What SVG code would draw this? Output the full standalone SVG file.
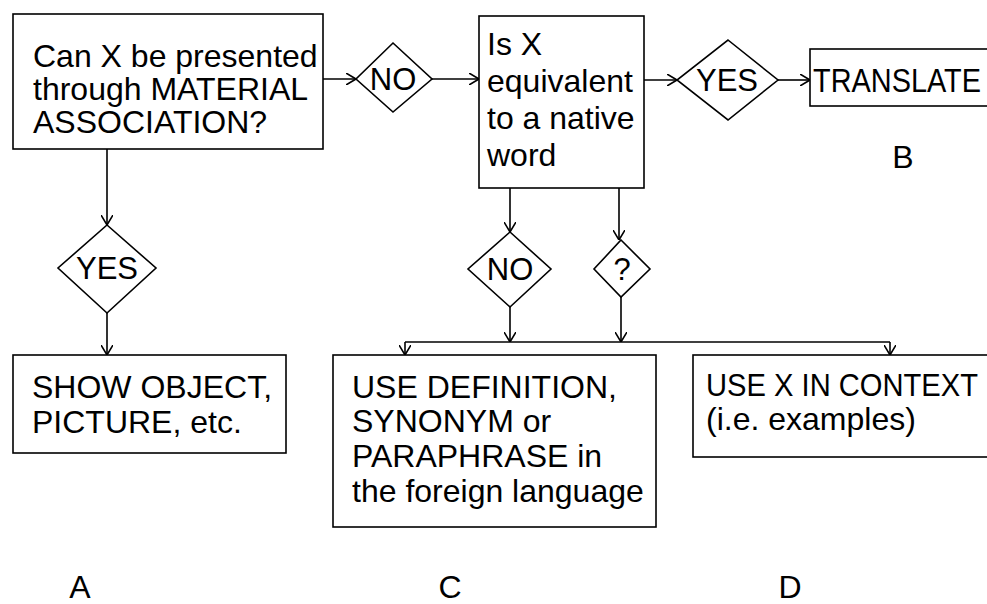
<svg xmlns="http://www.w3.org/2000/svg" width="987" height="604" viewBox="0 0 987 604">
<style>
.box{fill:#fff;stroke:#000;stroke-width:1.6}
.dia{fill:#fff;stroke:#000;stroke-width:1.6}
.t{font-family:"Liberation Sans",Arial,sans-serif;font-size:32px;fill:#000}
.d{font-size:31px}
.c{text-anchor:middle}
.ln{fill:none;stroke:#000;stroke-width:1.6}
</style>
<defs>
<marker id="arr" viewBox="0 0 10 12" refX="10" refY="6" markerWidth="10" markerHeight="12" markerUnits="userSpaceOnUse" orient="auto">
<path d="M0,0 L10,6 L0,12" fill="none" stroke="#000" stroke-width="1.6"/>
</marker>
</defs>
<rect width="987" height="604" fill="#fff"/>
<g id="connectors">
<path class="ln" d="M323,79 H356" marker-end="url(#arr)"/>
<path class="ln" d="M432,79 H479" marker-end="url(#arr)"/>
<path class="ln" d="M644,80 H677" marker-end="url(#arr)"/>
<path class="ln" d="M778,80 H810" marker-end="url(#arr)"/>
<path class="ln" d="M107,149 V225" marker-end="url(#arr)"/>
<path class="ln" d="M107,313 V355" marker-end="url(#arr)"/>
<path class="ln" d="M510,188 V232" marker-end="url(#arr)"/>
<path class="ln" d="M619,188 V240" marker-end="url(#arr)"/>
<path class="ln" d="M510,307 V342" marker-end="url(#arr)"/>
<path class="ln" d="M621,297 V342" marker-end="url(#arr)"/>
<path class="ln" d="M405,342 H890"/>
<path class="ln" d="M405,342 V355" marker-end="url(#arr)"/>
<path class="ln" d="M890,342 V355" marker-end="url(#arr)"/>
</g>
<g id="q1">
<rect class="box" x="13" y="14" width="310" height="135"/>
<text class="t" x="33" y="67">Can X be presented</text>
<text class="t" x="33" y="100">through MATERIAL</text>
<text class="t" x="33" y="133">ASSOCIATION?</text>
</g>
<g id="d-no1">
<polygon class="dia" points="393,43 432,79 393,112 356,79"/>
<text class="t d c" x="393" y="90">NO</text>
</g>
<g id="q2">
<rect class="box" x="479" y="16" width="165" height="172"/>
<text class="t" x="487" y="55">Is X</text>
<text class="t" x="487" y="92">equivalent</text>
<text class="t" x="487" y="129">to a native</text>
<text class="t" x="487" y="166">word</text>
</g>
<g id="d-yes1">
<polygon class="dia" points="728,40 778,80 728,120 677,80"/>
<text class="t d c" x="727" y="91">YES</text>
</g>
<g id="translate">
<rect class="box" x="810" y="49" width="190" height="57"/>
<text class="t" x="813" y="92" style="font-size:33px" textLength="168" lengthAdjust="spacingAndGlyphs">TRANSLATE</text>
</g>
<text class="t c" x="903" y="168">B</text>
<g id="d-yes2">
<polygon class="dia" points="107,225 156,268 107,313 58,268"/>
<text class="t d c" x="107" y="279">YES</text>
</g>
<g id="show">
<rect class="box" x="13" y="355" width="273" height="98"/>
<text class="t" x="32" y="398">SHOW OBJECT,</text>
<text class="t" x="32" y="433">PICTURE, etc.</text>
</g>
<g id="d-no2">
<polygon class="dia" points="510,232 551,269 510,307 468,269"/>
<text class="t d c" x="510" y="280">NO</text>
</g>
<g id="d-q">
<polygon class="dia" points="621,240 650,269 621,297 594,269"/>
<text class="t d c" x="622" y="280">?</text>
</g>
<g id="definition">
<rect class="box" x="333" y="355" width="323" height="172"/>
<text class="t" x="352" y="398">USE DEFINITION,</text>
<text class="t" x="352" y="432">SYNONYM or</text>
<text class="t" x="352" y="467">PARAPHRASE in</text>
<text class="t" x="352" y="502">the foreign language</text>
</g>
<g id="context">
<rect class="box" x="693" y="355" width="310" height="102"/>
<text class="t" x="706" y="396" textLength="272" lengthAdjust="spacingAndGlyphs">USE X IN CONTEXT</text>
<text class="t" x="706" y="430">(i.e. examples)</text>
</g>
<text class="t c" x="80" y="598">A</text>
<text class="t c" x="450" y="598">C</text>
<text class="t c" x="790" y="598">D</text>
</svg>
